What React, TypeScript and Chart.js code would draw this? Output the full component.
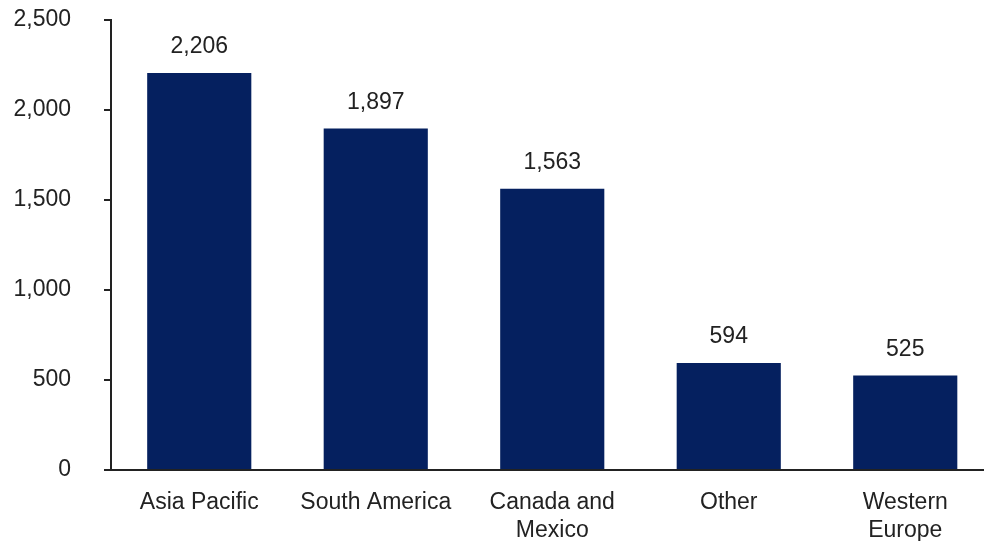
import React, { useEffect, useRef } from "react";
import { Chart, registerables } from "chart.js";

Chart.register(...registerables);

const categories: (string | string[])[] = [
  "Asia Pacific",
  "South America",
  ["Canada and", "Mexico"],
  "Other",
  ["Western", "Europe"],
];
const values: number[] = [2206, 1897, 1563, 594, 525];
const yTicks: number[] = [0, 500, 1000, 1500, 2000, 2500];

const FONT = "'Liberation Sans', Arial, sans-serif";

const valueLabels = {
  id: "valueLabels",
  afterDatasetsDraw(chart: any) {
    const ctx = chart.ctx;
    const meta = chart.getDatasetMeta(0);
    ctx.save();
    ctx.font = `23px ${FONT}`;
    ctx.fillStyle = "#222";
    ctx.textAlign = "center";
    ctx.textBaseline = "alphabetic";
    meta.data.forEach((bar: any, i: number) => {
      ctx.fillText(values[i].toLocaleString("en-US"), bar.x, bar.y - 20);
    });
    ctx.restore();
  },
};

export default function App() {
  const ref = useRef<HTMLCanvasElement>(null);
  useEffect(() => {
    if (!ref.current) return;
    const chart = new Chart(ref.current, {
      type: "bar",
      data: {
        labels: categories,
        datasets: [
          {
            data: values,
            backgroundColor: "#05205f",
            barPercentage: 0.59,
            categoryPercentage: 1,
          },
        ],
      },
      options: {
        responsive: false,
        animation: false,
        layout: { padding: { top: 20, right: 6.5, left: 0, bottom: 0 } },
        plugins: { legend: { display: false }, tooltip: { enabled: false } },
        scales: {
          x: {
            grid: { display: false, drawTicks: false },
            border: { display: true, color: "#222", width: 2 },
            ticks: {
              color: "#222",
              font: { family: FONT, size: 23, lineHeight: 1.25 },
              padding: 18,
              maxRotation: 0,
              autoSkip: false,
            },
            afterFit: (scale: any) => {
              scale.height = 71;
              scale.paddingTop = 0;
              scale.paddingBottom = 0;
            },
          },
          y: {
            min: 0,
            max: 2500,
            afterBuildTicks: (scale: any) => {
              scale.ticks = yTicks.map((v) => ({ value: v }));
            },
            grid: {
              display: true,
              drawOnChartArea: false,
              drawTicks: true,
              tickLength: 7,
              color: "#222",
              lineWidth: 2,
            },
            border: { display: true, color: "#222", width: 2 },
            ticks: {
              color: "#222",
              font: { family: FONT, size: 23 },
              padding: 33,
              callback: (v: any) => Number(v).toLocaleString("en-US"),
            },
            afterFit: (scale: any) => {
              scale.width = 111;
              scale.paddingTop = 0;
              scale.paddingBottom = 0;
            },
          },
        },
      },
      plugins: [valueLabels],
    });
    return () => chart.destroy();
  }, []);
  return (
    <div
      style={{
        position: "fixed",
        left: 0,
        top: 0,
        width: 984,
        height: 541,
        overflow: "hidden",
        background: "#fff",
      }}
    >
      <canvas ref={ref} width={1000} height={541} style={{ display: "block" }} />
    </div>
  );
}
